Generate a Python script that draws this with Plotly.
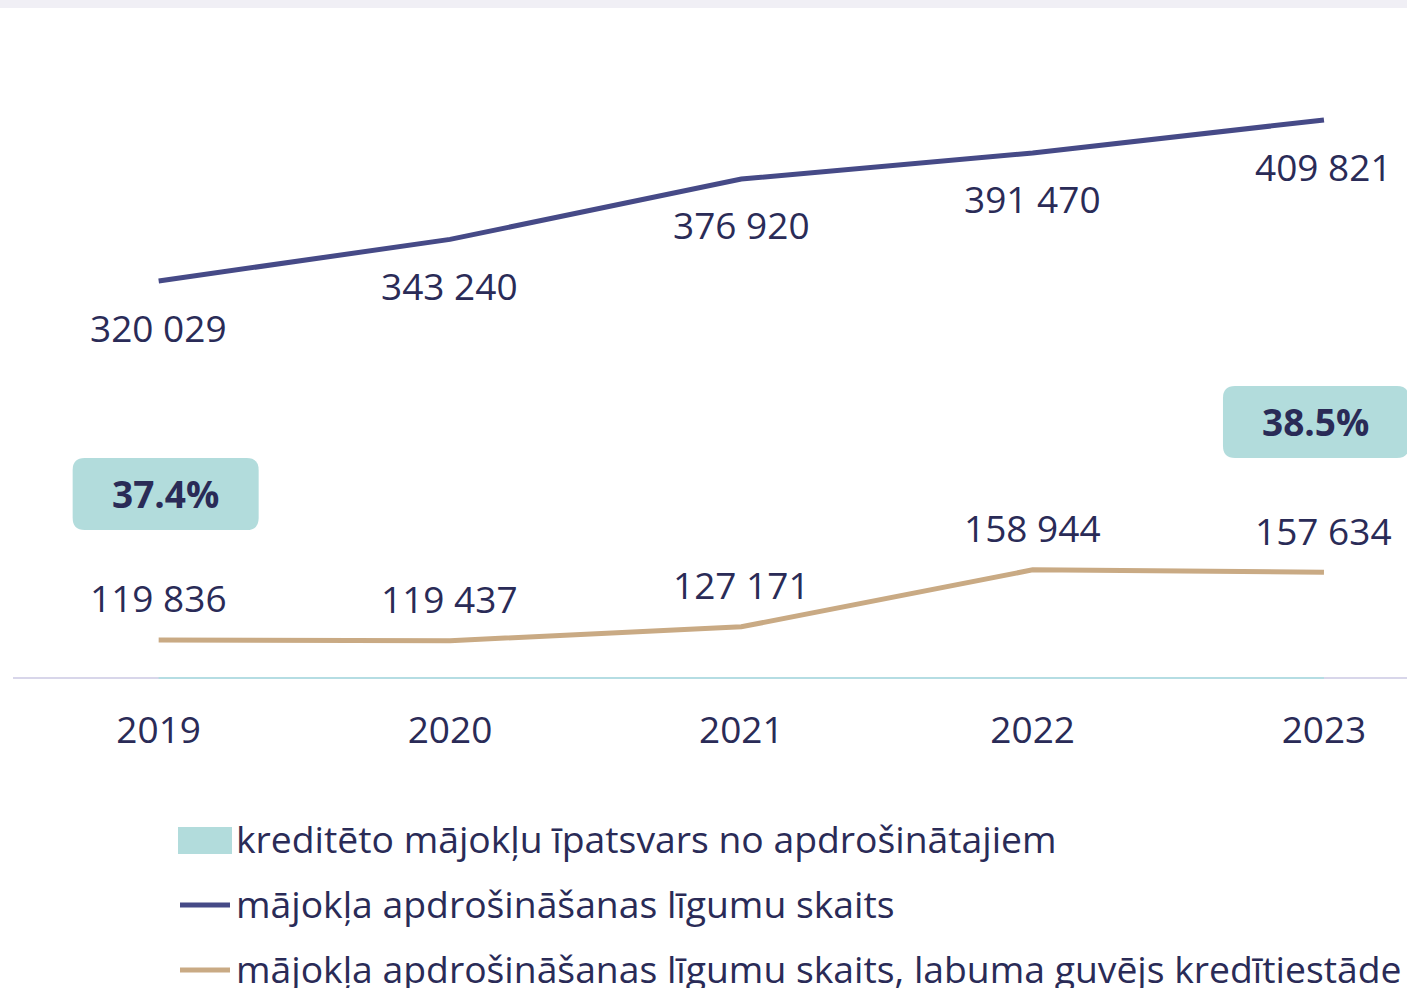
import plotly.graph_objects as go

# ---- data ----
years = ["2019", "2020", "2021", "2022", "2023"]
contracts_total = [320029, 343240, 376920, 391470, 409821]
contracts_credit = [119836, 119437, 127171, 158944, 157634]
share_years = ["2019", "2023"]
share_values = [37.4, 38.5]

names = [
    "kreditēto mājokļu īpatsvars no apdrošinātajiem",
    "mājokļa apdrošināšanas līgumu skaits",
    "mājokļa apdrošināšanas līgumu skaits, labuma guvējs kredītiestāde",
]

# ---- style ----
W, H = 1407, 988
ML, MR, MT, MB = 13, 0, 60, 311
PW, PH = W - ML - MR, H - MT - MB
FONT = "Open Sans"
FS = 37
LFS = 37.3
TXT = "#2a2b57"
NAVY = "#464a87"
TAN = "#c9aa84"
CYAN = "#b2dcdc"
AXIS = "#d8d6ea"


def px_x(p):
    return (p - ML) / PW


def px_y(p):
    return (H - MB - p) / PH


def fmt(v):
    return f"{v:,}".replace(",", " ")


idx = {y: i for i, y in enumerate(years)}

fig = go.Figure()
fig.add_trace(go.Scatter(x=years, y=contracts_total, mode="lines",
                         line=dict(color=NAVY, width=5), name=names[1],
                         showlegend=False, hoverinfo="skip"))
fig.add_trace(go.Scatter(x=years, y=contracts_credit, mode="lines",
                         line=dict(color=TAN, width=5), name=names[2],
                         showlegend=False, hoverinfo="skip"))

annotations = []
for x, v in zip(years, contracts_total):
    annotations.append(dict(x=idx[x], y=v, xref="x", yref="y", text=fmt(v), showarrow=False,
                            yshift=-46, font=dict(family=FONT, size=FS, color=TXT)))
for x, v in zip(years, contracts_credit):
    annotations.append(dict(x=idx[x], y=v, xref="x", yref="y", text=fmt(v), showarrow=False,
                            yshift=42, font=dict(family=FONT, size=FS, color=TXT)))

shapes = []
# top grey band
shapes.append(dict(type="rect", xref="paper", yref="paper", x0=-0.05, x1=1.05,
                   y0=px_y(8), y1=px_y(-5), fillcolor="#f0eff5", line=dict(width=0), layer="below"))
# cyan baseline of the share series
shapes.append(dict(type="line", xref="x", yref="paper", x0=idx[years[0]], x1=idx[years[-1]],
                   y0=px_y(678), y1=px_y(678), line=dict(color="#b5dde3", width=2), layer="above"))

# badges
badge_shift = [7, -8]
bw, bh, r = 93, 36, 12
for x, v, sh in zip(share_years, share_values, badge_shift):
    x0, x1, y0, y1 = sh - bw, sh + bw, -bh, bh
    path = (f"M{x0 + r},{y0} L{x1 - r},{y0} Q{x1},{y0} {x1},{y0 + r} "
            f"L{x1},{y1 - r} Q{x1},{y1} {x1 - r},{y1} L{x0 + r},{y1} "
            f"Q{x0},{y1} {x0},{y1 - r} L{x0},{y0 + r} Q{x0},{y0} {x0 + r},{y0} Z")
    shapes.append(dict(type="path", xref="x", yref="y2", xsizemode="pixel", ysizemode="pixel",
                       xanchor=idx[x], yanchor=v, path=path,
                       fillcolor=CYAN, line=dict(width=0)))
    annotations.append(dict(x=idx[x], y=v, xref="x", yref="y2", text=f"<b>{v}%</b>", showarrow=False,
                            xshift=sh, yshift=1, font=dict(family=FONT, size=FS, color=TXT)))

# manual legend
leg_rows = [840, 905, 970]
shapes.append(dict(type="rect", xref="paper", yref="paper", x0=px_x(178), x1=px_x(232),
                   y0=px_y(854), y1=px_y(827), fillcolor=CYAN, line=dict(width=0)))
for yy, col in zip(leg_rows[1:], [NAVY, TAN]):
    shapes.append(dict(type="line", xref="paper", yref="paper", x0=px_x(180), x1=px_x(230),
                       y0=px_y(yy), y1=px_y(yy), line=dict(color=col, width=5)))
for yy, nm in zip(leg_rows, names):
    annotations.append(dict(x=px_x(234), y=px_y(yy - 2), xref="paper", yref="paper", text=nm,
                            showarrow=False, xanchor="left", yanchor="middle",
                            font=dict(family=FONT, size=LFS, color=TXT)))

fig.update_layout(
    width=W, height=H,
    margin=dict(l=ML, r=MR, t=MT, b=MB),
    paper_bgcolor="white", plot_bgcolor="white",
    showlegend=False,
    font=dict(family=FONT, size=FS, color=TXT),
    xaxis=dict(type="category", range=[-0.5, 4.285], showgrid=False, zeroline=False,
               showline=True, linecolor=AXIS, linewidth=2, ticks="",
               tickfont=dict(family=FONT, size=FS, color=TXT), ticklabelstandoff=20),
    yaxis=dict(range=[99170, 443286], visible=False),
    yaxis2=dict(range=[34.6042, 44.0306], overlaying="y", visible=False),
    shapes=shapes,
    annotations=annotations,
)

fig.write_html("out.html", config={"displayModeBar": False},
               post_script="document.body.style.margin='0';document.body.style.overflow='hidden';")
